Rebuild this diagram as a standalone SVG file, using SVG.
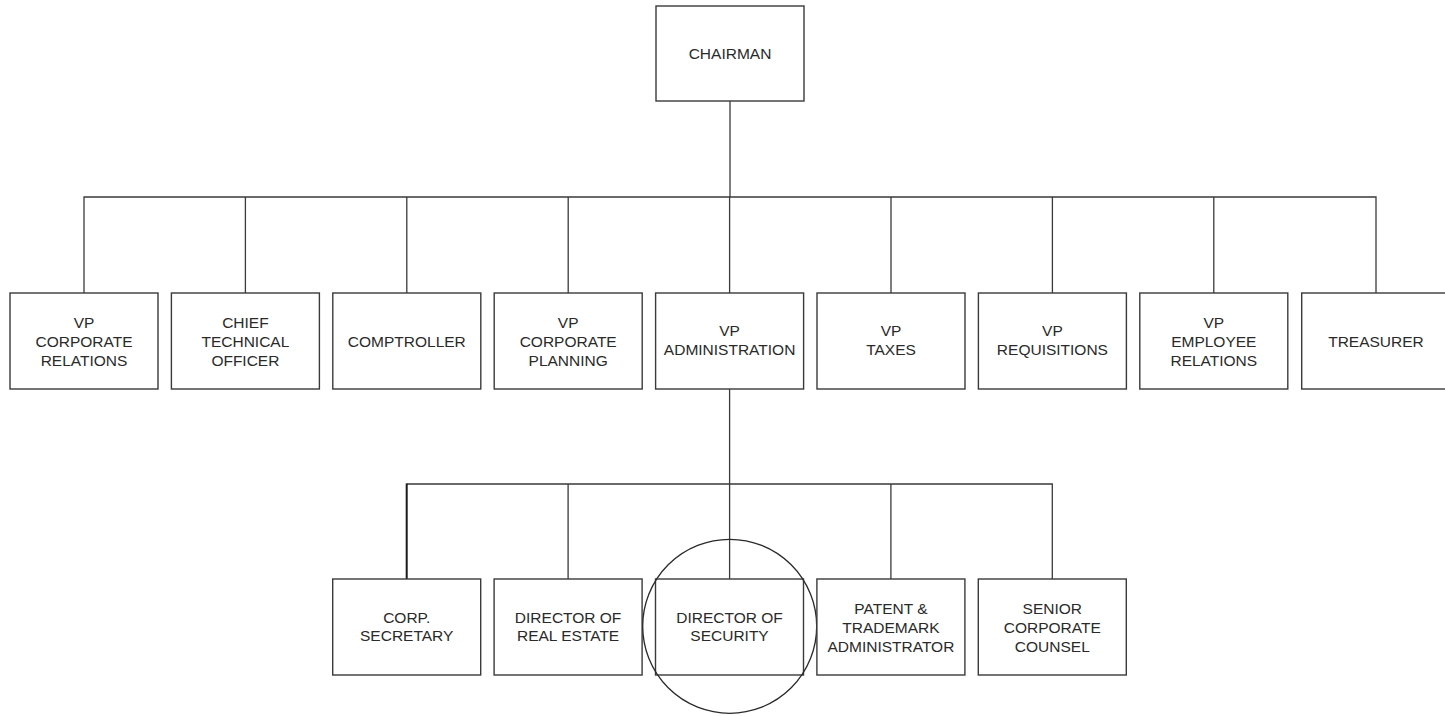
<svg xmlns="http://www.w3.org/2000/svg" width="1445" height="716" viewBox="0 0 1445 716">
  <style>
    .box { fill: #ffffff; stroke: #3a3a3a; stroke-width: 1.4; }
    .wire { fill: none; stroke: #3a3a3a; stroke-width: 1.3; }
    .heavy { stroke: #1a1a1a; stroke-width: 2; }
    .lbl { font-family: "Liberation Sans", Arial, sans-serif; font-size: 15.5px; fill: #2a2a2a; text-anchor: middle; }
    .ring { fill: none; stroke: #2a2a2a; stroke-width: 1.3; }
  </style>
  <rect width="1445" height="716" fill="#ffffff"/>

  <!-- reporting lines -->
  <g id="connectors">
    <path class="wire" d="M730 101 V197"/>
    <path class="wire" d="M84 293 V197 H1376 V293"/>
    <path class="wire" d="M245.4 197 V293 M406.8 197 V293 M568.2 197 V293 M729.6 197 V293 M891 197 V293 M1052.4 197 V293 M1213.8 197 V293"/>
    <path class="wire" d="M729.6 389 V579"/>
    <path class="wire" d="M406.7 484 H1052.3 V579"/>
    <path class="wire heavy" d="M406.7 483.5 V579"/>
    <path class="wire" d="M568.1 484 V579 M890.9 484 V579"/>
  </g>

  <g id="chairman">
    <rect class="box" x="656" y="6" width="148" height="95"/>
    <text class="lbl" x="730" y="59">CHAIRMAN</text>
  </g>

  <g id="vp-corporate-relations">
    <rect class="box" x="10" y="293" width="148" height="96"/>
    <text class="lbl" x="84" y="327.5">VP</text>
    <text class="lbl" x="84" y="346.5">CORPORATE</text>
    <text class="lbl" x="84" y="365.5">RELATIONS</text>
  </g>
  <g id="chief-technical-officer">
    <rect class="box" x="171.4" y="293" width="148" height="96"/>
    <text class="lbl" x="245.4" y="327.5">CHIEF</text>
    <text class="lbl" x="245.4" y="346.5">TECHNICAL</text>
    <text class="lbl" x="245.4" y="365.5">OFFICER</text>
  </g>
  <g id="comptroller">
    <rect class="box" x="332.8" y="293" width="148" height="96"/>
    <text class="lbl" x="406.8" y="346.5">COMPTROLLER</text>
  </g>
  <g id="vp-corporate-planning">
    <rect class="box" x="494.2" y="293" width="148" height="96"/>
    <text class="lbl" x="568.2" y="327.5">VP</text>
    <text class="lbl" x="568.2" y="346.5">CORPORATE</text>
    <text class="lbl" x="568.2" y="365.5">PLANNING</text>
  </g>
  <g id="vp-administration">
    <rect class="box" x="655.6" y="293" width="148" height="96"/>
    <text class="lbl" x="729.6" y="335.5">VP</text>
    <text class="lbl" x="729.6" y="354.5">ADMINISTRATION</text>
  </g>
  <g id="vp-taxes">
    <rect class="box" x="817" y="293" width="148" height="96"/>
    <text class="lbl" x="891" y="335.5">VP</text>
    <text class="lbl" x="891" y="354.5">TAXES</text>
  </g>
  <g id="vp-requisitions">
    <rect class="box" x="978.4" y="293" width="148" height="96"/>
    <text class="lbl" x="1052.4" y="335.5">VP</text>
    <text class="lbl" x="1052.4" y="354.5">REQUISITIONS</text>
  </g>
  <g id="vp-employee-relations">
    <rect class="box" x="1139.8" y="293" width="148" height="96"/>
    <text class="lbl" x="1213.8" y="327.5">VP</text>
    <text class="lbl" x="1213.8" y="346.5">EMPLOYEE</text>
    <text class="lbl" x="1213.8" y="365.5">RELATIONS</text>
  </g>
  <g id="treasurer">
    <!-- box runs past the right edge of the sheet -->
    <rect class="box" x="1301.7" y="293" width="148" height="96"/>
    <text class="lbl" x="1376" y="346.5">TREASURER</text>
  </g>

  <g id="corp-secretary">
    <rect class="box" x="332.7" y="579" width="148" height="96"/>
    <text class="lbl" x="406.7" y="623">CORP.</text>
    <text class="lbl" x="406.7" y="641">SECRETARY</text>
  </g>
  <g id="director-real-estate">
    <rect class="box" x="494.1" y="579" width="148" height="96"/>
    <text class="lbl" x="568.1" y="623">DIRECTOR OF</text>
    <text class="lbl" x="568.1" y="641">REAL ESTATE</text>
  </g>
  <g id="director-security">
    <rect class="box" x="655.5" y="579" width="148" height="96"/>
    <text class="lbl" x="729.5" y="623">DIRECTOR OF</text>
    <text class="lbl" x="729.5" y="641">SECURITY</text>
    <circle class="ring" cx="729.7" cy="626.3" r="87"/>
  </g>
  <g id="patent-trademark-administrator">
    <rect class="box" x="816.9" y="579" width="148" height="96"/>
    <text class="lbl" x="890.9" y="613.5">PATENT &amp;</text>
    <text class="lbl" x="890.9" y="632.5">TRADEMARK</text>
    <text class="lbl" x="890.9" y="651.5">ADMINISTRATOR</text>
  </g>
  <g id="senior-corporate-counsel">
    <rect class="box" x="978.3" y="579" width="148" height="96"/>
    <text class="lbl" x="1052.3" y="613.5">SENIOR</text>
    <text class="lbl" x="1052.3" y="632.5">CORPORATE</text>
    <text class="lbl" x="1052.3" y="651.5">COUNSEL</text>
  </g>
</svg>
